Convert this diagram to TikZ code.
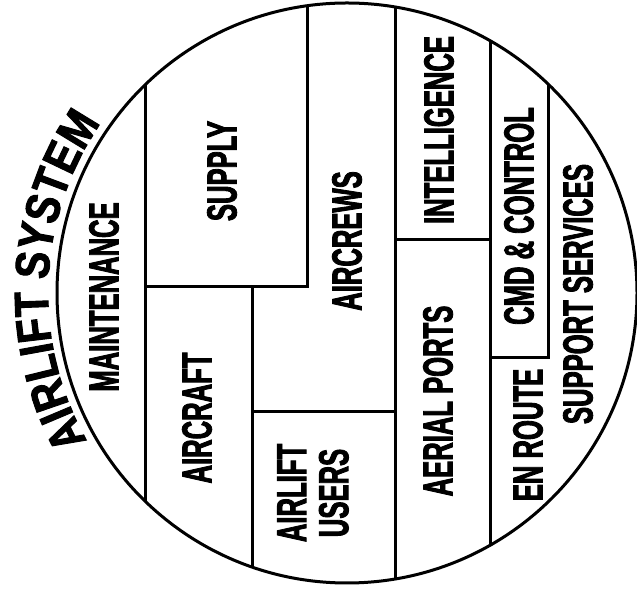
\documentclass[tikz,border=0pt]{standalone}
\usepackage{fontspec}
\setmainfont{Liberation Sans}
\newfontfamily\condfont{Liberation Sans}[UprightFont={* Bold}, FakeStretch=0.61, FakeBold=2]
\newfontfamily\arcfont{Liberation Sans}[UprightFont={* Bold}, FakeStretch=0.85, FakeBold=2]
\usetikzlibrary{decorations.text}

\begin{document}
\begin{tikzpicture}[x=1pt, y=1pt, line width=3pt,
  lbl/.style={font=\condfont\fontsize{42}{42}\selectfont, rotate=90, align=center, inner sep=0pt}]
  \useasboundingbox (0,0) rectangle (637,591);
  \coordinate (c) at (347,298);
  % outer circle
  \draw (c) circle (290);
  % partitions
  \begin{scope}
    \clip (c) circle (290);
    \draw (145,-10) -- (145,600);
    \draw (307,600) -- (307,304) -- (145,304);
    \draw (252,304) -- (252,-10);
    \draw (252,179) -- (395,179);
    \draw (395,-10) -- (395,600);
    \draw (395,351) -- (490,351);
    \draw (490,-10) -- (490,600);
    \draw (548,600) -- (548,233) -- (490,233);
  \end{scope}
  % labels
  \node[lbl] (maint) at (104,294) {MAINTENANCE};
  \node[lbl] (supply) at (222,420) {SUPPLY};
  \node[lbl] (aircraft) at (197,173) {AIRCRAFT};
  \node[lbl] (users) at (313,98) {AIRLIFT\\USERS};
  \node[lbl] (crews) at (347,350) {AIRCREWS};
  \node[lbl] (intel) at (439,461) {INTELLIGENCE};
  \node[lbl] (ports) at (438,190) {AERIAL PORTS};
  \node[lbl] (cmd) at (519,375) {CMD \& CONTROL};
  \node[lbl] (enroute) at (528,156) {EN ROUTE};
  \node[lbl] (support) at (578,297) {SUPPORT SERVICES};
  % curved title
  \path[decorate, decoration={text along path, text align=center,
    text={|\arcfont\fontsize{48}{48}\selectfont|AIRLIFT SYSTEM}}]
    (c) ++(212:299) arc[start angle=212, end angle=143, radius=299];
\end{tikzpicture}
\end{document}
